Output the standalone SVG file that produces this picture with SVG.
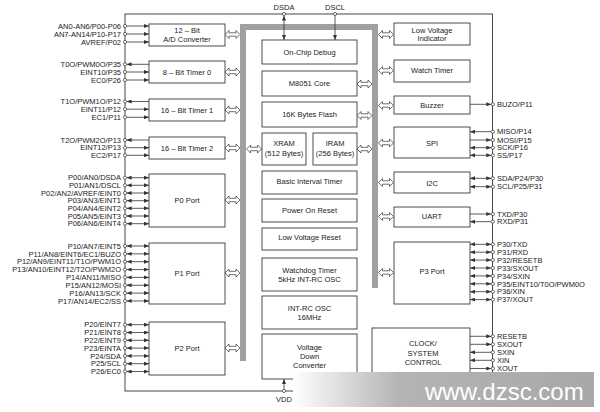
<svg xmlns="http://www.w3.org/2000/svg" width="600" height="412" viewBox="0 0 600 412">
<style>
.box{fill:#fff;stroke:#3a3a3a;stroke-width:0.9}
.t{font-family:"Liberation Sans",Arial,sans-serif;font-size:7.5px;fill:#222}
.c{text-anchor:middle}
.r{text-anchor:end}
.w{stroke:#333;stroke-width:0.8;fill:none}
.pin{fill:#fff;stroke:#333;stroke-width:0.7}
.bus{fill:#a0a0a0}
.dbl{fill:#fff;stroke:#333;stroke-width:0.7}
.i{marker-end:url(#ah)}
.o{marker-start:url(#ah)}
.b{marker-start:url(#ah);marker-end:url(#ah)}
</style>
<defs>
<marker id="ah" viewBox="0 0 5 4" refX="5" refY="2" markerWidth="5" markerHeight="4" markerUnits="userSpaceOnUse" orient="auto-start-reverse"><path d="M0,0 L5,2 L0,4 Z" fill="#333"/></marker>
<path id="dbl" d="M-7.5,0 L-3.5,-4 L-3.5,-1.7 L3.5,-1.7 L3.5,-4 L7.5,0 L3.5,4 L3.5,1.7 L-3.5,1.7 L-3.5,4 Z"/>
<linearGradient id="bg" x1="0" y1="0" x2="1" y2="0">
<stop offset="0" stop-color="#ffffff"/>
<stop offset="0.35" stop-color="#b4b4b4"/>
<stop offset="1" stop-color="#a8a8a8"/>
</linearGradient>
</defs>
<rect width="600" height="412" fill="#fff"/>

<g id="frame">
<rect x="125" y="14" width="367.5" height="377" class="w" style="stroke-width:0.9"/>
</g>

<g id="bus" class="bus">
<rect x="240" y="24" width="138" height="6"/>
<rect x="240" y="24" width="6" height="337"/>
<rect x="372" y="24" width="6" height="264"/>
</g>

<g id="connectors">
<!-- top / bottom pins -->
<line x1="284" y1="15.6" x2="284" y2="40" class="w b"/>
<line x1="335" y1="15.6" x2="335" y2="40" class="w i"/>
<line x1="284" y1="389.4" x2="284" y2="379" class="w i"/>
<!-- left pins -->
<g class="w">
<line x1="126.6" y1="26" x2="149" y2="26" class="i"/>
<line x1="126.6" y1="34" x2="149" y2="34" class="i"/>
<line x1="126.6" y1="42" x2="149" y2="42" class="i"/>
<line x1="126.6" y1="64.3" x2="149" y2="64.3" class="o"/>
<line x1="126.6" y1="72" x2="149" y2="72" class="i"/>
<line x1="126.6" y1="80" x2="149" y2="80" class="i"/>
<line x1="126.6" y1="101.5" x2="149" y2="101.5" class="o"/>
<line x1="126.6" y1="109.2" x2="149" y2="109.2" class="i"/>
<line x1="126.6" y1="117.3" x2="149" y2="117.3" class="i"/>
<line x1="126.6" y1="140" x2="149" y2="140" class="o"/>
<line x1="126.6" y1="147.7" x2="149" y2="147.7" class="i"/>
<line x1="126.6" y1="155.3" x2="149" y2="155.3" class="i"/>
<line x1="126.6" y1="177.7" x2="149" y2="177.7" class="b"/>
<line x1="126.6" y1="185.3" x2="149" y2="185.3" class="b"/>
<line x1="126.6" y1="193" x2="149" y2="193" class="b"/>
<line x1="126.6" y1="200.7" x2="149" y2="200.7" class="b"/>
<line x1="126.6" y1="208.3" x2="149" y2="208.3" class="b"/>
<line x1="126.6" y1="216" x2="149" y2="216" class="b"/>
<line x1="126.6" y1="223.7" x2="149" y2="223.7" class="b"/>
<line x1="126.6" y1="246" x2="149" y2="246" class="b"/>
<line x1="126.6" y1="253.85" x2="149" y2="253.85" class="b"/>
<line x1="126.6" y1="261.7" x2="149" y2="261.7" class="b"/>
<line x1="126.6" y1="269.55" x2="149" y2="269.55" class="b"/>
<line x1="126.6" y1="277.4" x2="149" y2="277.4" class="b"/>
<line x1="126.6" y1="285.25" x2="149" y2="285.25" class="b"/>
<line x1="126.6" y1="293.1" x2="149" y2="293.1" class="b"/>
<line x1="126.6" y1="300.95" x2="149" y2="300.95" class="b"/>
<line x1="126.6" y1="324.7" x2="149" y2="324.7" class="b"/>
<line x1="126.6" y1="332.5" x2="149" y2="332.5" class="b"/>
<line x1="126.6" y1="340.3" x2="149" y2="340.3" class="b"/>
<line x1="126.6" y1="348.1" x2="149" y2="348.1" class="b"/>
<line x1="126.6" y1="355.9" x2="149" y2="355.9" class="b"/>
<line x1="126.6" y1="363.7" x2="149" y2="363.7" class="b"/>
<line x1="126.6" y1="371.5" x2="149" y2="371.5" class="b"/>
</g>
<!-- right pins -->
<g class="w">
<line x1="470" y1="104.3" x2="491.3" y2="104.3" class="i"/>
<line x1="470" y1="131.7" x2="491.3" y2="131.7" class="o"/>
<line x1="470" y1="140" x2="491.3" y2="140" class="i"/>
<line x1="470" y1="147.7" x2="491.3" y2="147.7" class="b"/>
<line x1="470" y1="155.3" x2="491.3" y2="155.3" class="b"/>
<line x1="470" y1="178.3" x2="491.3" y2="178.3" class="b"/>
<line x1="470" y1="186.7" x2="491.3" y2="186.7" class="b"/>
<line x1="470" y1="214" x2="491.3" y2="214" class="i"/>
<line x1="470" y1="221.7" x2="491.3" y2="221.7" class="o"/>
<line x1="470" y1="244.3" x2="491.3" y2="244.3" class="b"/>
<line x1="470" y1="252.2" x2="491.3" y2="252.2" class="b"/>
<line x1="470" y1="260.1" x2="491.3" y2="260.1" class="b"/>
<line x1="470" y1="268" x2="491.3" y2="268" class="b"/>
<line x1="470" y1="275.9" x2="491.3" y2="275.9" class="b"/>
<line x1="470" y1="283.8" x2="491.3" y2="283.8" class="b"/>
<line x1="470" y1="291.7" x2="491.3" y2="291.7" class="b"/>
<line x1="470" y1="299.6" x2="491.3" y2="299.6" class="b"/>
<line x1="470" y1="336.3" x2="491.3" y2="336.3" class="i"/>
<line x1="470" y1="344.3" x2="491.3" y2="344.3" class="i"/>
<line x1="470" y1="352.3" x2="491.3" y2="352.3" class="o"/>
<line x1="470" y1="360.3" x2="491.3" y2="360.3" class="o"/>
<line x1="470" y1="368.5" x2="491.3" y2="368.5" class="i"/>
</g>
<!-- pin circles -->
<g class="pin">
<circle cx="284" cy="14" r="1.6"/><circle cx="335" cy="14" r="1.6"/><circle cx="284" cy="391" r="1.6"/>
<circle cx="125" cy="26" r="1.6"/><circle cx="125" cy="34" r="1.6"/><circle cx="125" cy="42" r="1.6"/>
<circle cx="125" cy="64.3" r="1.6"/><circle cx="125" cy="72" r="1.6"/><circle cx="125" cy="80" r="1.6"/>
<circle cx="125" cy="101.5" r="1.6"/><circle cx="125" cy="109.2" r="1.6"/><circle cx="125" cy="117.3" r="1.6"/>
<circle cx="125" cy="140" r="1.6"/><circle cx="125" cy="147.7" r="1.6"/><circle cx="125" cy="155.3" r="1.6"/>
<circle cx="125" cy="177.7" r="1.6"/><circle cx="125" cy="185.3" r="1.6"/><circle cx="125" cy="193" r="1.6"/><circle cx="125" cy="200.7" r="1.6"/><circle cx="125" cy="208.3" r="1.6"/><circle cx="125" cy="216" r="1.6"/><circle cx="125" cy="223.7" r="1.6"/>
<circle cx="125" cy="246" r="1.6"/><circle cx="125" cy="253.85" r="1.6"/><circle cx="125" cy="261.7" r="1.6"/><circle cx="125" cy="269.55" r="1.6"/><circle cx="125" cy="277.4" r="1.6"/><circle cx="125" cy="285.25" r="1.6"/><circle cx="125" cy="293.1" r="1.6"/><circle cx="125" cy="300.95" r="1.6"/>
<circle cx="125" cy="324.7" r="1.6"/><circle cx="125" cy="332.5" r="1.6"/><circle cx="125" cy="340.3" r="1.6"/><circle cx="125" cy="348.1" r="1.6"/><circle cx="125" cy="355.9" r="1.6"/><circle cx="125" cy="363.7" r="1.6"/><circle cx="125" cy="371.5" r="1.6"/>
<circle cx="492.9" cy="104.3" r="1.6"/><circle cx="492.9" cy="131.7" r="1.6"/><circle cx="492.9" cy="140" r="1.6"/><circle cx="492.9" cy="147.7" r="1.6"/><circle cx="492.9" cy="155.3" r="1.6"/>
<circle cx="492.9" cy="178.3" r="1.6"/><circle cx="492.9" cy="186.7" r="1.6"/><circle cx="492.9" cy="214" r="1.6"/><circle cx="492.9" cy="221.7" r="1.6"/>
<circle cx="492.9" cy="244.3" r="1.6"/><circle cx="492.9" cy="252.2" r="1.6"/><circle cx="492.9" cy="260.1" r="1.6"/><circle cx="492.9" cy="268" r="1.6"/><circle cx="492.9" cy="275.9" r="1.6"/><circle cx="492.9" cy="283.8" r="1.6"/><circle cx="492.9" cy="291.7" r="1.6"/><circle cx="492.9" cy="299.6" r="1.6"/>
<circle cx="492.9" cy="336.3" r="1.6"/><circle cx="492.9" cy="344.3" r="1.6"/><circle cx="492.9" cy="352.3" r="1.6"/><circle cx="492.9" cy="360.3" r="1.6"/><circle cx="492.9" cy="368.5" r="1.6"/>
</g>
<!-- hollow double arrows -->
<g class="dbl">
<use href="#dbl" x="232.5" y="34.5"/><use href="#dbl" x="232.5" y="72"/><use href="#dbl" x="232.5" y="110"/><use href="#dbl" x="232.5" y="148"/>
<use href="#dbl" x="232.5" y="200"/><use href="#dbl" x="232.5" y="273"/><use href="#dbl" x="232.5" y="348"/>
<use href="#dbl" x="254" y="149"/>
<use href="#dbl" x="364.5" y="84"/><use href="#dbl" x="364.5" y="115.5"/><use href="#dbl" x="364.5" y="149"/>
<use href="#dbl" x="386" y="34.5"/><use href="#dbl" x="386" y="70.5"/><use href="#dbl" x="386" y="105.5"/><use href="#dbl" x="386" y="143"/>
<use href="#dbl" x="386" y="182.5"/><use href="#dbl" x="386" y="216.5"/><use href="#dbl" x="386" y="272.5"/>
</g>
</g>

<g id="pin-labels" class="t">
<text x="284" y="9.5" class="c">DSDA</text>
<text x="335" y="9.5" class="c">DSCL</text>
<text x="284" y="402" class="c">VDD</text>
<g class="r">
<text x="121" y="28.7">AN0-AN6/P00-P06</text>
<text x="121" y="36.7">AN7-AN14/P10-P17</text>
<text x="121" y="44.7">AVREF/P02</text>
<text x="121" y="67">T0O/PWM0O/P35</text>
<text x="121" y="74.7">EINT10/P35</text>
<text x="121" y="82.7">EC0/P26</text>
<text x="121" y="104.2">T1O/PWM1O/P12</text>
<text x="121" y="111.9">EINT11/P12</text>
<text x="121" y="120">EC1/P11</text>
<text x="121" y="142.7">T2O/PWM2O/P13</text>
<text x="121" y="150.4">EINT12/P13</text>
<text x="121" y="158">EC2/P17</text>
<text x="121" y="180.4">P00/AN0/DSDA</text>
<text x="121" y="188">P01/AN1/DSCL</text>
<text x="121" y="195.7">P02/AN2/AVREF/EINT0</text>
<text x="121" y="203.4">P03/AN3/EINT1</text>
<text x="121" y="211">P04/AN4/EINT2</text>
<text x="121" y="218.7">P05/AN5/EINT3</text>
<text x="121" y="226.4">P06/AN6/EINT4</text>
<text x="121" y="248.7">P10/AN7/EINT5</text>
<text x="121" y="256.55">P11/AN8/EINT6/EC1/BUZO</text>
<text x="121" y="264.4">P12/AN9/EINT11/T1O/PWM1O</text>
<text x="121" y="272.25">P13/AN10/EINT12/T2O/PWM2O</text>
<text x="121" y="280.1">P14/AN11/MISO</text>
<text x="121" y="287.95">P15/AN12/MOSI</text>
<text x="121" y="295.8">P16/AN13/SCK</text>
<text x="121" y="303.65">P17/AN14/EC2/SS</text>
<text x="121" y="327.4">P20/EINT7</text>
<text x="121" y="335.2">P21/EINT8</text>
<text x="121" y="343">P22/EINT9</text>
<text x="121" y="350.8">P23/EINTA</text>
<text x="121" y="358.6">P24/SDA</text>
<text x="121" y="366.4">P25/SCL</text>
<text x="121" y="374.2">P26/EC0</text>
</g>
<text x="497" y="107">BUZO/P11</text>
<text x="497" y="134.4">MISO/P14</text>
<text x="497" y="142.7">MOSI/P15</text>
<text x="497" y="150.4">SCK/P16</text>
<text x="497" y="158">SS/P17</text>
<text x="497" y="181">SDA/P24/P30</text>
<text x="497" y="189.4">SCL/P25/P31</text>
<text x="497" y="216.7">TXD/P30</text>
<text x="497" y="224.4">RXD/P31</text>
<text x="497" y="247">P30/TXD</text>
<text x="497" y="254.9">P31/RXD</text>
<text x="497" y="262.8">P32/RESETB</text>
<text x="497" y="270.7">P33/SXOUT</text>
<text x="497" y="278.6">P34/SXIN</text>
<text x="497" y="286.5">P35/EINT10/T0O/PWM0O</text>
<text x="497" y="294.4">P36/XIN</text>
<text x="497" y="302.3">P37/XOUT</text>
<text x="497" y="339">RESETB</text>
<text x="497" y="347">SXOUT</text>
<text x="497" y="355">SXIN</text>
<text x="497" y="363">XIN</text>
<text x="497" y="371.2">XOUT</text>
</g>

<g id="adc"><rect x="149" y="24" width="76" height="22" class="box"/><text x="187" y="33.2" class="t c">12 – Bit</text><text x="187" y="42.4" class="t c">A/D Converter</text></g>
<g id="timer0"><rect x="149" y="61" width="76" height="22" class="box"/><text x="187" y="74.7" class="t c">8 – Bit Timer 0</text></g>
<g id="timer1"><rect x="149" y="99" width="76" height="22" class="box"/><text x="187" y="112.7" class="t c">16 – Bit Timer 1</text></g>
<g id="timer2"><rect x="149" y="137" width="76" height="22" class="box"/><text x="187" y="150.7" class="t c">16 – Bit Timer 2</text></g>
<g id="p0"><rect x="149" y="174" width="76" height="53" class="box"/><text x="187" y="202.7" class="t c">P0 Port</text></g>
<g id="p1"><rect x="149" y="243" width="76" height="61" class="box"/><text x="187" y="276" class="t c">P1 Port</text></g>
<g id="p2"><rect x="149" y="322" width="76" height="53" class="box"/><text x="187" y="350.7" class="t c">P2 Port</text></g>

<g id="ocd"><rect x="262" y="40" width="95" height="24" class="box"/><text x="309.5" y="54.7" class="t c">On-Chip Debug</text></g>
<g id="core"><rect x="262" y="71" width="95" height="25" class="box"/><text x="309.5" y="86.2" class="t c">M8051 Core</text></g>
<g id="flash"><rect x="262" y="102" width="95" height="25" class="box"/><text x="309.5" y="117.2" class="t c">16K Bytes Flash</text></g>
<g id="xram"><rect x="262" y="133" width="44" height="32" class="box"/><text x="284" y="146" class="t c">XRAM</text><text x="284" y="156" class="t c">(512 Bytes)</text></g>
<g id="iram"><rect x="313" y="133" width="44" height="32" class="box"/><text x="335" y="146" class="t c">IRAM</text><text x="335" y="156" class="t c">(256 Bytes)</text></g>
<g id="bit"><rect x="262" y="171" width="95" height="23" class="box"/><text x="309.5" y="184.4" class="t c">Basic Interval Timer</text></g>
<g id="por"><rect x="262" y="199" width="95" height="23" class="box"/><text x="309.5" y="212.7" class="t c">Power On Reset</text></g>
<g id="lvr"><rect x="262" y="228" width="95" height="22" class="box"/><text x="309.5" y="240.4" class="t c">Low Voltage Reset</text></g>
<g id="wdt"><rect x="262" y="258" width="95" height="33" class="box"/><text x="309.5" y="272.7" class="t c">Watchdog Timer</text><text x="309.5" y="281.7" class="t c">5kHz INT-RC OSC</text></g>
<g id="osc"><rect x="262" y="296" width="95" height="33" class="box"/><text x="309.5" y="311" class="t c">INT-RC OSC</text><text x="309.5" y="320" class="t c">16MHz</text></g>
<g id="vdc"><rect x="262" y="334" width="95" height="45" class="box"/><text x="309.5" y="349.7" class="t c">Voltage</text><text x="309.5" y="358.7" class="t c">Down</text><text x="309.5" y="368" class="t c">Converter</text></g>

<g id="lvi"><rect x="394" y="23" width="76" height="22" class="box"/><text x="432" y="32.7" class="t c">Low Voltage</text><text x="432" y="41.4" class="t c">Indicator</text></g>
<g id="wt"><rect x="394" y="60" width="76" height="22" class="box"/><text x="432" y="73.2" class="t c">Watch Timer</text></g>
<g id="buzzer"><rect x="394" y="96" width="76" height="18" class="box"/><text x="432" y="107.7" class="t c">Buzzer</text></g>
<g id="spi"><rect x="394" y="127" width="76" height="31" class="box"/><text x="432" y="146" class="t c">SPI</text></g>
<g id="i2c"><rect x="394" y="172" width="76" height="21" class="box"/><text x="432" y="186" class="t c">I2C</text></g>
<g id="uart"><rect x="394" y="207" width="76" height="20" class="box"/><text x="432" y="219.4" class="t c">UART</text></g>
<g id="p3"><rect x="394" y="242" width="76" height="62" class="box"/><text x="432" y="274.4" class="t c">P3 Port</text></g>
<g id="clock"><rect x="372" y="328" width="98" height="62" class="box"/><text x="423" y="346.4" class="t c">CLOCK/</text><text x="423" y="355.7" class="t c">SYSTEM</text><text x="423" y="365" class="t c">CONTROL</text></g>

<g id="banner">
<rect x="293" y="372" width="301" height="35" fill="url(#bg)"/>
<text x="425" y="400" style="font-family:'Liberation Sans',Arial,sans-serif;font-size:24px;fill:#fff">www.dzsc.com</text>
</g>
</svg>
